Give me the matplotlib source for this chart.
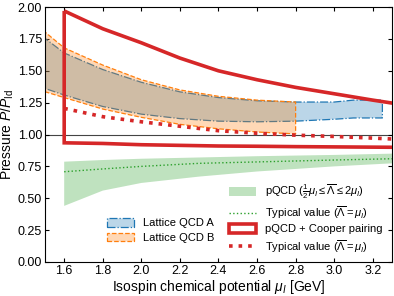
import numpy as np
import matplotlib
matplotlib.use("Agg")
import matplotlib.pyplot as plt
from matplotlib.patches import Patch
from matplotlib.lines import Line2D

plt.rcParams['font.family'] = ['Liberation Sans', 'DejaVu Sans']
plt.rcParams['mathtext.fontset'] = 'custom'
plt.rcParams['mathtext.rm'] = 'Liberation Sans'
plt.rcParams['mathtext.it'] = 'Liberation Sans:italic'
plt.rcParams['mathtext.bf'] = 'Liberation Sans:bold'

# lattice QCD bands
mu_a = [1.5, 1.6, 1.8, 2.0, 2.2, 2.4, 2.6, 2.8, 3.0, 3.1, 3.25]
a_hi = [1.755, 1.64, 1.51, 1.41, 1.335, 1.29, 1.265, 1.255, 1.255, 1.27, 1.27]
a_lo = [1.362, 1.31, 1.22, 1.16, 1.125, 1.105, 1.10, 1.105, 1.12, 1.13, 1.13]

mu_b = [1.5, 1.6, 1.8, 2.0, 2.2, 2.4, 2.6, 2.8]
b_hi = [1.805, 1.68, 1.545, 1.43, 1.35, 1.30, 1.27, 1.255]
b_lo = [1.336, 1.29, 1.20, 1.135, 1.08, 1.045, 1.02, 1.005]

# pQCD band + typical value
mu_p = [1.6, 1.8, 2.0, 2.3, 2.6, 3.0, 3.3, 3.4]
p_hi = [0.787, 0.80, 0.81, 0.82, 0.83, 0.84, 0.85, 0.853]
p_lo = [0.44, 0.56, 0.62, 0.67, 0.71, 0.75, 0.774, 0.78]
p_mid = [0.708, 0.73, 0.75, 0.774, 0.785, 0.80, 0.81, 0.813]

# pQCD + Cooper pairing
mu_c = [1.6, 1.8, 2.0, 2.2, 2.4, 2.6, 2.8, 3.0, 3.2, 3.3, 3.4]
c_hi = [1.97, 1.83, 1.72, 1.60, 1.50, 1.43, 1.37, 1.32, 1.27, 1.247, 1.23]
c_lo = [0.935, 0.93, 0.92, 0.915, 0.91, 0.908, 0.905, 0.903, 0.901, 0.90, 0.90]
c_mid = [1.205, 1.14, 1.10, 1.065, 1.03, 1.01, 0.995, 0.985, 0.972, 0.965, 0.96]

blue = '#1f77b4'
orange = '#ff7f0e'
green = '#2ca02c'
red = '#d62728'
blue_fc = (0.12, 0.47, 0.71, 0.3)
orange_fc = (1.0, 0.5, 0.05, 0.3)

fig = plt.figure(figsize=(3.94, 2.96), dpi=100)
ax = fig.add_axes([0.114, 0.115, 0.881, 0.861])

ax.axhline(1.0, color='#444444', lw=0.8, zorder=1)

ax.fill_between(mu_a, a_lo, a_hi, facecolor=blue_fc,
                edgecolor=blue, linestyle='-.', lw=0.9, zorder=2)
ax.fill_between(mu_b, b_lo, b_hi, facecolor=orange_fc,
                edgecolor=orange, linestyle='--', lw=0.9, zorder=2)

ax.fill_between(mu_p, p_lo, p_hi, facecolor=green, alpha=0.3, lw=0, zorder=2)
ax.plot(mu_p, p_mid, ':', color=green, lw=1.0, zorder=3)

xs = np.concatenate([mu_c, mu_c[::-1]])
ys = np.concatenate([c_hi, c_lo[::-1]])
ax.fill(xs, ys, facecolor='none', edgecolor=red, lw=2.6, zorder=4)
ax.plot(mu_c, c_mid, ':', color=red, lw=2.6, zorder=4)

ax.set_xlim(1.5, 3.3)
ax.set_ylim(0, 2)
ax.set_xticks(np.arange(1.6, 3.21, 0.2))
ax.set_yticks(np.arange(0, 2.01, 0.25))
ax.xaxis.set_major_formatter('{x:.1f}')
ax.yaxis.set_major_formatter('{x:.2f}')
ax.tick_params(direction='in', top=True, right=True, length=3, pad=2, labelsize=9)
ax.set_xlabel(r'Isospin chemical potential $\mu_I$ [GeV]', fontsize=10, labelpad=1)
ax.set_ylabel(r'Pressure $P/P_{\rm Id}$', fontsize=10, labelpad=1)

h1 = [Patch(facecolor=blue_fc, edgecolor=blue, linestyle='-.', lw=0.9),
      Patch(facecolor=orange_fc, edgecolor=orange, linestyle='--', lw=0.9)]
leg1 = ax.legend(h1, ['Lattice QCD A', 'Lattice QCD B'], loc='lower left',
                 bbox_to_anchor=(0.15, 0.035), frameon=False, fontsize=8,
                 handlelength=2.4, handleheight=0.8, labelspacing=0.4)
ax.add_artist(leg1)

h2 = [Patch(facecolor=green, alpha=0.3, lw=0),
      Line2D([], [], ls=':', color=green, lw=1.0),
      Patch(facecolor='white', edgecolor=red, lw=2.6),
      Line2D([], [], ls=':', color=red, lw=2.6)]
l2 = [r'pQCD ($\frac{1}{2}\mu_I \leq \overline{\Lambda} \leq 2\mu_I$)',
      r'Typical value ($\overline{\Lambda} = \mu_I$)',
      'pQCD + Cooper pairing',
      r'Typical value ($\overline{\Lambda} = \mu_I$)']
ax.legend(h2, l2, loc='lower right', bbox_to_anchor=(1.0, -0.01), frameon=False,
          fontsize=8, handlelength=2.4, handleheight=0.8, labelspacing=0.3)

fig.savefig('out.png', dpi=100)
